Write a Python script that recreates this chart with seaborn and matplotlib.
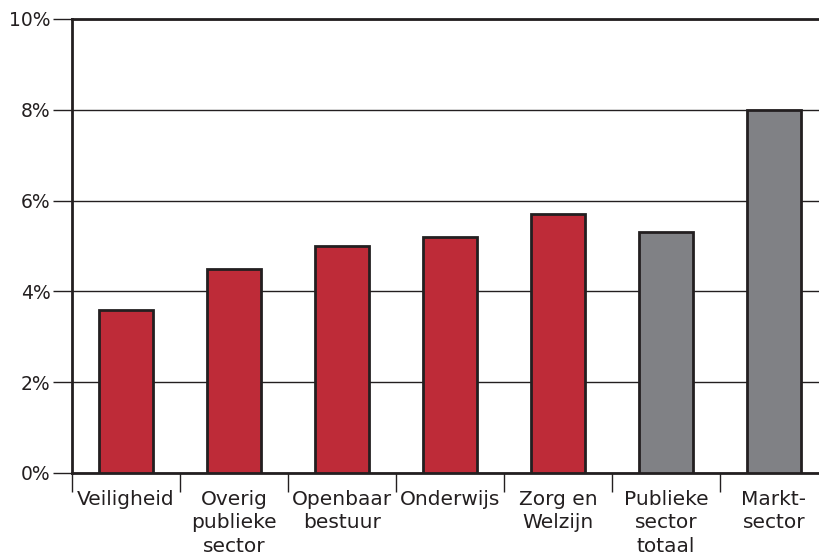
import matplotlib
matplotlib.use("Agg")
import matplotlib.pyplot as plt
import seaborn as sns
import numpy as np
from matplotlib.ticker import FixedLocator, FuncFormatter

categories = ["Veiligheid", "Overig\npublieke\nsector", "Openbaar\nbestuur", "Onderwijs",
              "Zorg en\nWelzijn", "Publieke\nsector\ntotaal", "Markt-\nsector"]
values = [3.6, 4.5, 5.0, 5.2, 5.7, 5.3, 8.0]
bar_colors = ["#BE2B38"] * 5 + ["#808185"] * 2
y_ticks = [0, 2, 4, 6, 8, 10]

sns.set_style("white")
plt.rcParams['font.family'] = ['DejaVu Sans']
ink = "#231F20"

fig = plt.figure(figsize=(8.2, 5.58), dpi=100)
ax = fig.add_axes([72/820, 1 - 473/558, 1 - 72/820, (473 - 19)/558])

sns.barplot(x=categories, y=values, hue=categories, palette=bar_colors, width=0.5,
            edgecolor=ink, linewidth=2, legend=False, ax=ax, saturation=1, zorder=3)

ax.set_xlim(-0.5, 6 + (820 - 774) / 108)
ax.set_ylim(0, 10)
ax.set_yticks(y_ticks)
ax.yaxis.set_major_formatter(FuncFormatter(lambda v, p: f"{v:.0f}%"))
ax.grid(axis="y", color=ink, linewidth=1, zorder=0)
ax.set_axisbelow(True)

for s in ["left", "bottom", "top"]:
    ax.spines[s].set_color(ink)
    ax.spines[s].set_linewidth(2)
ax.spines["right"].set_visible(False)

ax.tick_params(axis="y", length=14, width=1, color=ink, labelsize=13.5, labelcolor=ink, pad=1.5, left=True)
ax.set_xticks(range(len(categories)))
ax.set_xticklabels(categories, fontsize=14.5, linespacing=1.3, color=ink)
ax.tick_params(axis="x", which="major", length=0, pad=12)
ax.xaxis.set_minor_locator(FixedLocator([i - 0.5 for i in range(len(categories))]))
ax.tick_params(axis="x", which="minor", length=14, width=1, color=ink, bottom=True)
ax.set_xlabel("")
ax.set_ylabel("")

fig.savefig("out.png", dpi=100)
